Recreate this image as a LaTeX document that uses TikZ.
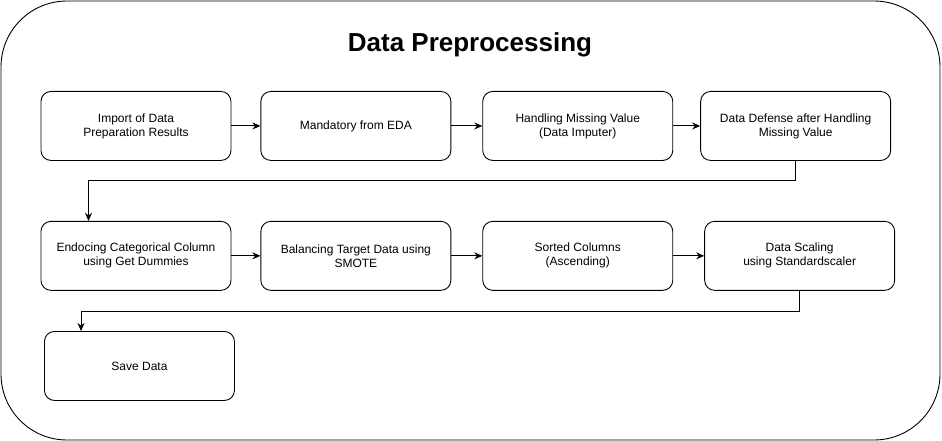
\documentclass[tikz,border=0pt]{standalone}
\usepackage{fontspec}
\setmainfont{Liberation Sans}
\usetikzlibrary{arrows.meta,positioning}
\tikzset{
  stepbox/.style={
    draw, rounded corners=10pt, minimum width=190pt, minimum height=69pt,
    font=\fontsize{12}{14}\selectfont, align=center, line width=0.9pt, inner sep=2pt
  },
  frame/.style={draw, rounded corners=66pt, line width=0.9pt},
  flow/.style={-{Stealth[length=8pt, width=7pt]}, line width=0.9pt},
  title/.style={font=\fontsize{26}{30}\selectfont\bfseries}
}

\begin{document}
\begin{tikzpicture}[x=1pt, y=-1pt, node distance=30pt]
  \useasboundingbox (0,0) rectangle (942,441);
  \draw[frame] (1,1) rectangle (940,440);
  \node[title] (ttl) at (470,45) {Data Preprocessing};
  % first row
  \node[stepbox, anchor=north west] (import) at (40.5,91) {Import of Data\\Preparation Results};
  \node[stepbox, right=29pt of import] (eda) {Mandatory from EDA};
  \node[stepbox, right=31pt of eda] (imputer) {Handling Missing Value\\(Data Imputer)};
  \node[stepbox, right=27pt of imputer] (defense) {Data Defense after Handling\\Missing Value};
  % second row
  \node[stepbox, below=60pt of import] (dummies) {Endocing Categorical Column\\using Get Dummies};
  \node[stepbox, right=29pt of dummies] (smote) {Balancing Target Data using\\SMOTE};
  \node[stepbox, right=31pt of smote] (sorted) {Sorted Columns\\(Ascending)};
  \node[stepbox, right=31pt of sorted] (scaling) {Data Scaling\\using Standardscaler};
  % last row
  \node[stepbox, anchor=north west] (save) at (44,331) {Save Data};

  \draw[flow] (import) -- (eda);
  \draw[flow] (eda) -- (imputer);
  \draw[flow] (imputer) -- (defense);
  \draw[flow] (defense.south) -- ++(0,20) -| ([xshift=48pt]dummies.north west);
  \draw[flow] (dummies) -- (smote);
  \draw[flow] (smote) -- (sorted);
  \draw[flow] (sorted) -- (scaling);
  \draw[flow] (scaling.south) -- ++(0,21) -| ([xshift=37pt]save.north west);
\end{tikzpicture}
\end{document}
